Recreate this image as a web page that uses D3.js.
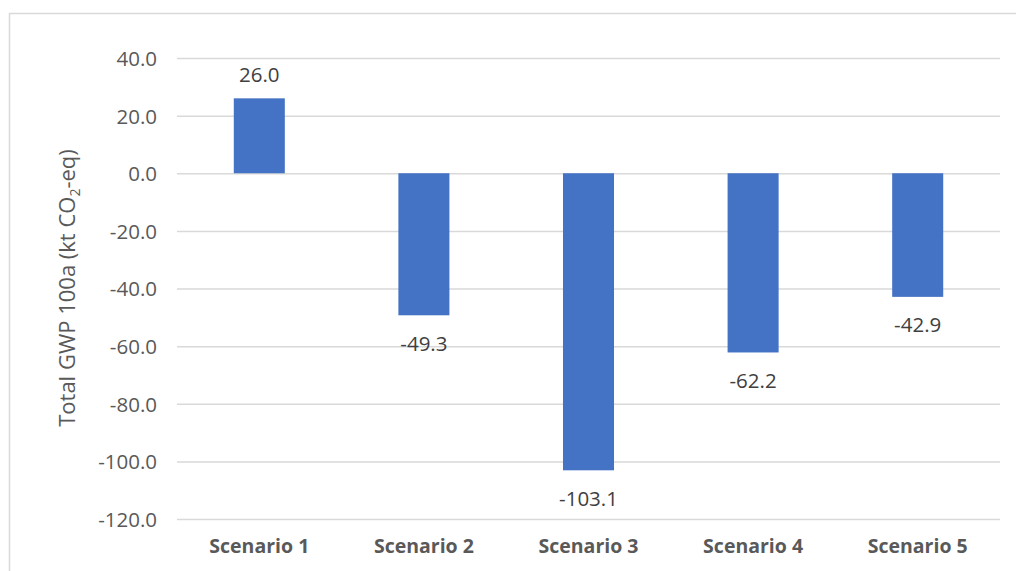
<!DOCTYPE html>
<html>
<head>
<meta charset="utf-8">
<script src="https://cdn.jsdelivr.net/npm/d3@7"></script>
<style>
html,body{margin:0;padding:0;background:#fff;}
svg{display:block;}
</style>
</head>
<body>
<script>
const categories = ["Scenario 1","Scenario 2","Scenario 3","Scenario 4","Scenario 5"];
const values = [26.0, -49.3, -103.1, -62.2, -42.9];
const yTicks = [40, 20, 0, -20, -40, -60, -80, -100, -120];

const W = 1016, H = 571;
const svg = d3.select("body").append("svg").attr("width", W).attr("height", H);
const font = "'Open Sans', 'Segoe UI', sans-serif";
const fmt = d => d3.format(".1f")(d).replace("\u2212","-");

// outer frame
svg.append("path")
  .attr("d", `M9.5,${H} L9.5,13.5 L${W},13.5`)
  .attr("fill","none").attr("stroke","#d9d9d9").attr("stroke-width",1.5);

const y = d3.scaleLinear().domain([-120, 40]).range([519, 58]);
const x = d3.scaleBand().domain(categories).range([177, 1000]).paddingInner(0.69).paddingOuter(0.345);

// gridlines + tick labels via axis
const yAxis = d3.axisLeft(y).tickValues(yTicks).tickSize(-(1000-177)).tickFormat(fmt);
const ga = svg.append("g").attr("transform","translate(177,0)").call(yAxis);
ga.select(".domain").remove();
ga.selectAll(".tick line").attr("stroke","#d9d9d9").attr("stroke-width",1.5);
ga.selectAll(".tick text")
  .attr("x",-20).attr("dy","0.36em")
  .attr("fill","#595959").style("font-family",font).style("font-size","20.5px");

// bars
svg.append("g").selectAll("rect").data(values).join("rect")
  .attr("x",(d,i)=>x(categories[i]))
  .attr("width",x.bandwidth())
  .attr("y",d=>y(Math.max(0,d)))
  .attr("height",d=>Math.abs(y(d)-y(0)))
  .attr("fill","#4472C4");

// data labels
svg.append("g").selectAll("text").data(values).join("text")
  .attr("x",(d,i)=>x(categories[i])+x.bandwidth()/2)
  .attr("y",d=> d>=0 ? y(d)-24 : y(d)+28)
  .attr("dy","0.36em")
  .attr("text-anchor","middle")
  .attr("fill","#404040").style("font-family",font).style("font-size","20.5px")
  .text(fmt);

// category labels
const xAxis = d3.axisBottom(x).tickSize(0);
const gx = svg.append("g").attr("transform","translate(0,539)").call(xAxis);
gx.select(".domain").remove();
gx.selectAll(".tick text").attr("y",0).attr("dy","0.71em")
  .attr("fill","#595959").style("font-family",font).style("font-size","19.5px").style("font-weight","bold");

// y-axis title
const t = svg.append("text")
  .attr("transform","translate(67,288) rotate(-90)")
  .attr("text-anchor","middle").attr("dy","0.35em")
  .attr("fill","#595959").style("font-family",font).style("font-size","22px");
t.append("tspan").text("Total GWP 100a (kt CO");
t.append("tspan").text("2").style("font-size","14px").attr("dy","5");
t.append("tspan").text("-eq)").attr("dy","-5");
</script>
</body>
</html>
